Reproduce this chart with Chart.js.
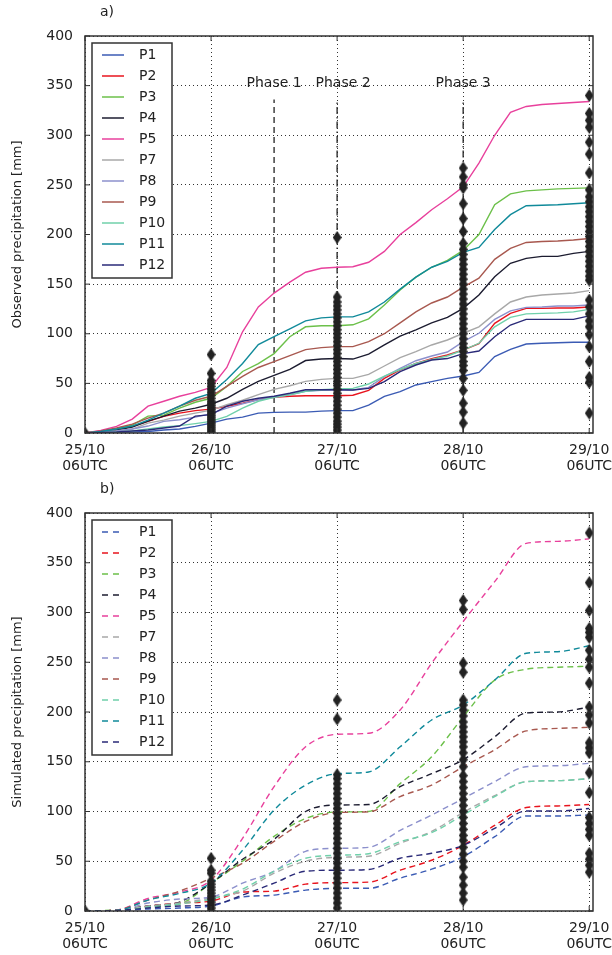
<!DOCTYPE html>
<html>
<head>
<meta charset="utf-8">
<script src="https://cdn.jsdelivr.net/npm/chart.js@4.4.1/dist/chart.umd.min.js"></script>
<style>
  html, body { margin: 0; padding: 0; background: #fff; }
  #wrap { position: relative; width: 612px; height: 955px; }
  canvas { position: absolute; left: 0; }
  #chartA { top: 0; }
  #chartB { top: 477px; }
</style>
</head>
<body>
<div id="wrap">
  <canvas id="chartA" width="612" height="477"></canvas>
  <canvas id="chartB" width="612" height="478"></canvas>
</div>
<script>
const FONT = "'DejaVu Sans', 'Liberation Sans', sans-serif";

// stations, in legend order
const stations = ['P1', 'P2', 'P3', 'P4', 'P5', 'P7', 'P8', 'P9', 'P10', 'P11', 'P12'];
const colors = ['#3b5bb4', '#e8141e', '#6cc04a', '#1c1c30', '#e8409c', '#a8a8a8',
                '#8c90cc', '#a8584f', '#70d0aa', '#108a9a', '#2a2a78'];

// x axis: days since 25/10 06UTC
const dayTicks = [0, 1, 2, 3, 4];
const xTickLabels = [['25/10', '06UTC'], ['26/10', '06UTC'], ['27/10', '06UTC'], ['28/10', '06UTC'], ['29/10', '06UTC']];

// observed accumulations, 3-hourly
const hoursObs = [0, 3, 6, 9, 12, 15, 18, 21, 24, 27, 30, 33, 36, 39, 42, 45, 48,
                  51, 54, 57, 60, 63, 66, 69, 72, 75, 78, 81, 84, 87, 90, 93, 96];
const obsP1  = [0, 0.2, 0.5, 1, 1.5, 3, 4, 6.7, 10, 14, 16, 20, 20.8, 21, 21, 22, 22.5, 22.5, 28, 37, 41.6, 48.4, 51.7, 55, 57.4, 61, 77, 84.3, 89.7, 90.4, 91, 91.4, 91.4];
const obsP2  = [0, 1, 3, 6.7, 11.7, 16.8, 20, 22.5, 24, 27, 30, 33.6, 36, 37, 37.5, 37.5, 37.5, 38, 43, 55, 63.5, 70, 75, 78.6, 83.6, 90, 110.5, 120.6, 125.6, 125.6, 126, 126, 127];
const obsP3  = [0, 1.5, 4, 8, 17, 18, 25, 31, 35, 47, 62, 70, 80, 97, 107, 108, 108, 109, 115, 129, 144, 157, 167, 174, 184, 200, 230, 241, 244, 245, 246, 246.5, 247];
const obsP4  = [0, 1, 3, 6, 12, 17, 22, 25, 29, 35, 44, 52, 58, 64, 73, 74.5, 75, 74.5, 79.5, 88.7, 97.7, 104, 111, 116.5, 125.6, 139, 157.5, 171, 176, 178, 178, 181, 183];
const obsP5  = [0, 2.7, 6.7, 14, 27, 32, 37, 41, 46, 66, 102, 127, 141, 152, 162, 166, 167, 167.5, 172, 183, 200, 212, 225, 236, 248, 272, 300, 323, 329, 331, 332, 333, 334];
const obsP7  = [0, 1, 2, 4, 10, 13, 17, 20, 23, 28.5, 33, 38.6, 44, 47.6, 52, 54, 55, 55, 59, 67.5, 76, 82, 88.7, 93.7, 100.5, 107, 120, 132, 137, 139, 140, 141, 143.5];
const obsP8  = [0, 1, 2, 4, 7, 11.7, 13.4, 16, 19.5, 25, 29.5, 33.5, 36, 38.6, 42, 43, 43.6, 43.3, 46, 56.7, 65, 72.8, 77.6, 81.6, 92, 100.5, 114.5, 123, 126.6, 127, 128, 128, 129];
const obsP9  = [0, 2, 5, 9, 15, 20, 27, 33, 37, 47, 57, 66, 72, 78, 84, 86, 87, 87, 92, 100, 111, 122, 131, 137, 147, 156, 175, 186, 192, 193, 193.5, 194.5, 196];
const obsP10 = [0, 0.5, 1, 2, 4, 6, 7.4, 9.4, 11.7, 16.8, 25, 32, 36, 38.6, 42, 43.6, 44.3, 45, 49.4, 57.4, 64, 70, 74, 77.6, 83.6, 90.4, 107, 116.5, 120, 120.5, 121, 122, 124.6];
const obsP11 = [0, 1.5, 4, 7, 13, 20, 27, 35, 40, 54, 70, 89, 97, 105, 113, 116, 117, 117, 122, 132, 145, 157, 167, 173, 182, 187, 205, 220, 229, 229.5, 230, 231, 232];
const obsP12 = [0, 0.5, 1, 2, 3, 5, 7, 17, 18.5, 27, 32, 35, 37, 40, 43.6, 43.6, 43.6, 43.3, 45, 51.7, 61.8, 68.5, 73.5, 75, 80, 82.6, 97, 108.8, 114.5, 114.5, 114.5, 114.5, 118];

// simulated accumulations, 6-hourly
const hoursSim = [0, 6, 12, 18, 24, 30, 36, 42, 48, 54, 60, 66, 72, 78, 84, 90, 96];
const simP1  = [0, 0.3, 2, 3, 5, 14, 16, 21, 22.8, 22.8, 33, 42, 54.6, 74.7, 95.5, 95.5, 96.5];
const simP2  = [0, 0.5, 5, 8, 10, 19, 20, 27, 28.5, 29, 41, 51, 66, 86, 104, 105.6, 107];
const simP3  = [0, 1, 4, 7, 28, 50, 75, 93, 99.5, 100, 128, 155, 195, 232, 243, 245, 246];
const simP4  = [0, 1, 5, 9, 28, 52, 72, 100, 106.5, 107, 125, 138, 152, 175, 199, 200, 205];
const simP5  = [0, 1, 12.6, 19, 31, 73, 125, 165, 177.6, 178.6, 202, 249, 291, 331, 369.5, 371.5, 374];
const simP7  = [0, 0.5, 5, 8, 13, 20, 38, 50, 54, 55, 68, 80, 99, 116, 130, 131, 133];
const simP8  = [0, 0.5, 8, 12, 14, 28, 40, 60, 63, 64, 81, 96.5, 113, 130, 145, 146, 148.4];
const simP9  = [0, 1, 11, 20, 33, 48, 70, 90, 99, 99.7, 115, 126.6, 145, 162, 181, 183.5, 184.6];
const simP10 = [0, 0.5, 4, 7, 12, 22, 40, 53, 56, 57.6, 69.6, 78.7, 96.5, 115, 130, 131, 133];
const simP11 = [0, 0.5, 11, 17.7, 28, 61, 101.5, 126.6, 138, 139.7, 165, 192, 207, 232, 259, 260.6, 266.6];
const simP12 = [0, 0.5, 3, 5, 6, 16, 28, 40, 41, 41.7, 53, 58, 66, 83, 100.5, 100.5, 103];

// station markers (diamonds) at each day
const markA = [
  [0],
  [0, 2, 4, 6, 8, 10, 12, 14, 16, 18, 20, 22, 24, 26, 28, 30, 32, 35, 38, 41, 44, 47, 50, 53, 60, 79],
  [0, 3, 6, 9, 12, 16, 20, 24, 28, 32, 36, 40, 44, 48, 52, 56, 60, 64, 68, 72, 76, 80, 84, 88, 92, 96, 100, 104, 108, 112, 116, 120, 124, 128, 132, 137, 197],
  [10, 21, 30, 43, 55, 63, 68, 72, 77, 82, 86, 90, 95, 100, 105, 110, 115, 120, 125, 130, 135, 140, 145, 150, 155, 160, 165, 170, 175, 180, 185, 191, 203, 216, 231, 247, 250, 258, 267],
  [20, 51, 56, 72, 87, 99, 107, 113, 120, 127, 134, 154, 158, 163, 168, 173, 178, 183, 188, 193, 198, 203, 208, 213, 218, 223, 228, 233, 238, 245, 262, 281, 293, 308, 315, 322, 340]
];
const markB = [
  [0],
  [0, 3, 6, 9, 12, 15, 18, 21, 24, 27, 30, 38, 41, 53],
  [3, 8, 13, 18, 23, 28, 33, 38, 43, 48, 53, 58, 63, 68, 73, 78, 83, 88, 93, 98, 103, 108, 113, 118, 123, 128, 133, 137, 193, 212],
  [11, 18, 26, 34, 44, 50, 57, 64, 71, 76, 82, 88, 94, 100, 106, 112, 118, 124, 130, 136, 145, 152, 159, 165, 170, 175, 180, 185, 190, 196, 202, 207, 212, 240, 249, 303, 312],
  [39, 46, 52, 58, 76, 82, 88, 94, 119, 139, 159, 164, 169, 189, 197, 205, 229, 245, 253, 262, 275, 280, 284, 302, 330, 380]
];

// phase separators (day) and their labels
const phaseNames = ['Phase 1', 'Phase 2', 'Phase 3'];
const phaseDays = [1.5, 2, 3];
const phaseTop = 336;

const obsSeries = [obsP1, obsP2, obsP3, obsP4, obsP5, obsP7, obsP8, obsP9, obsP10, obsP11, obsP12];
const simSeries = [simP1, simP2, simP3, simP4, simP5, simP7, simP8, simP9, simP10, simP11, simP12];

function diamondImg() {
  const c = document.createElement('canvas');
  c.width = 9; c.height = 13;
  const g = c.getContext('2d');
  g.fillStyle = '#222';
  g.beginPath();
  g.moveTo(4.5, 0); g.lineTo(9, 6.5); g.lineTo(4.5, 13); g.lineTo(0, 6.5);
  g.closePath(); g.fill();
  return c;
}
const DIAMOND = diamondImg();

function toPoints(hours, vals) {
  return vals.map((v, i) => ({ x: hours[i] / 24, y: v }));
}

function markerSet(marks) {
  const pts = [];
  marks.forEach((vals, d) => vals.forEach(v => pts.push({ x: dayTicks[d], y: v })));
  return {
    label: 'stations', data: pts, showLine: false,
    pointStyle: DIAMOND, pointRadius: 5, order: -100, inLegend: false
  };
}

function lineSets(series, hours, dashed) {
  return series.map((vals, i) => ({
    label: stations[i],
    data: toPoints(hours, vals),
    borderColor: colors[i],
    backgroundColor: colors[i],
    borderWidth: 1.4,
    borderDash: dashed ? [6, 4] : [],
    pointRadius: 0,
    cubicInterpolationMode: dashed ? 'monotone' : 'default',
    order: series.length - i,
    inLegend: true
  }));
}

function phaseSets() {
  return phaseDays.map((d, i) => ({
    label: phaseNames[i],
    data: [{ x: d, y: 0 }, { x: d, y: phaseTop }],
    borderColor: '#222',
    borderWidth: 1.3,
    borderDash: i === 0 ? [6, 4] : [7, 3, 1.5, 3],
    pointRadius: 0,
    order: 50,
    inLegend: false
  }));
}

const gridOpts = { color: 'rgba(0,0,0,0.8)', lineWidth: 1, drawTicks: false };

function axes(yTitle) {
  return {
    x: {
      type: 'linear', min: 0, max: 4.03,
      afterFit: s => { s.height = 44; s.paddingLeft = 0; s.paddingRight = 0; },
      afterBuildTicks: s => { s.ticks = dayTicks.map(v => ({ value: v })); },
      ticks: {
        callback: v => xTickLabels[dayTicks.indexOf(v)],
        padding: 9, color: '#222', maxRotation: 0, autoSkip: false,
        font: { family: FONT, size: 14, lineHeight: 1.15 }
      },
      grid: gridOpts,
      border: { display: false, dash: [1, 3] }
    },
    y: {
      type: 'linear', min: 0, max: 400,
      afterFit: s => { s.width = 85; },
      ticks: { stepSize: 50, padding: 12, color: '#222', font: { family: FONT, size: 14 } },
      title: {
        display: true, text: yTitle, color: '#222',
        padding: { top: 10, bottom: 0 },
        font: { family: FONT, size: 13 }
      },
      grid: gridOpts,
      border: { display: false, dash: [1, 3] }
    }
  };
}

function decor(panelLabel, withPhases) {
  return {
    id: 'decor',
    afterDatasetsDraw(chart) {
      const ctx = chart.ctx;
      const a = chart.chartArea;
      const xs = chart.scales.x, ys = chart.scales.y;
      ctx.save();
      // frame
      ctx.strokeStyle = '#333';
      ctx.lineWidth = 1.5;
      ctx.setLineDash([]);
      ctx.strokeRect(a.left, a.top, a.right - a.left, a.bottom - a.top);
      // inward ticks
      ctx.lineWidth = 1;
      ctx.beginPath();
      ys.ticks.forEach(t => {
        const y = ys.getPixelForValue(t.value);
        ctx.moveTo(a.left, y); ctx.lineTo(a.left + 5, y);
        ctx.moveTo(a.right, y); ctx.lineTo(a.right - 5, y);
      });
      xs.ticks.forEach(t => {
        const x = xs.getPixelForValue(t.value);
        ctx.moveTo(x, a.top); ctx.lineTo(x, a.top + 5);
        ctx.moveTo(x, a.bottom); ctx.lineTo(x, a.bottom - 5);
      });
      ctx.stroke();

      ctx.fillStyle = '#222';
      ctx.font = '14px ' + FONT;
      // phase labels
      if (withPhases) {
        ctx.textAlign = 'center';
        ctx.textBaseline = 'alphabetic';
        phaseDays.forEach((d, i) => {
          const x = xs.getPixelForValue(d) + (i === 1 ? 6 : 0);
          ctx.fillText(phaseNames[i], x, ys.getPixelForValue(350) + 1);
        });
      }
      // panel label
      ctx.textAlign = 'left';
      ctx.textBaseline = 'middle';
      ctx.fillText(panelLabel, 100, 12);

      // legend box
      const items = chart.data.datasets.filter(d => d.inLegend);
      const bx = a.left + 7, by = a.top + 7, bw = 80, bh = 235;
      ctx.fillStyle = '#fff';
      ctx.fillRect(bx, by, bw, bh);
      ctx.strokeStyle = '#333';
      ctx.lineWidth = 1.5;
      ctx.strokeRect(bx, by, bw, bh);
      items.forEach((d, i) => {
        const y = by + 12 + i * 21;
        ctx.strokeStyle = d.borderColor;
        ctx.lineWidth = 1.5;
        ctx.setLineDash(d.borderDash.length ? [6, 5] : []);
        ctx.beginPath();
        ctx.moveTo(bx + 10, y); ctx.lineTo(bx + 32, y);
        ctx.stroke();
        ctx.setLineDash([]);
        ctx.fillStyle = '#222';
        ctx.fillText(d.label, bx + 47, y);
      });
      ctx.restore();
    }
  };
}

function makeChart(id, datasets, yTitle, panelLabel, withPhases) {
  return new Chart(document.getElementById(id).getContext('2d'), {
    type: 'line',
    data: { datasets: datasets },
    options: {
      responsive: false,
      animation: false,
      devicePixelRatio: 1,
      layout: { padding: { left: 0, right: 19, top: 36, bottom: 0 } },
      plugins: { legend: { display: false }, tooltip: { enabled: false } },
      scales: axes(yTitle)
    },
    plugins: [decor(panelLabel, withPhases)]
  });
}

makeChart('chartA',
  [markerSet(markA)].concat(lineSets(obsSeries, hoursObs, false), phaseSets()),
  'Observed precipitation [mm]', 'a)', true);

makeChart('chartB',
  [markerSet(markB)].concat(lineSets(simSeries, hoursSim, true)),
  'Simulated precipitation [mm]', 'b)', false);
</script>
</body>
</html>
